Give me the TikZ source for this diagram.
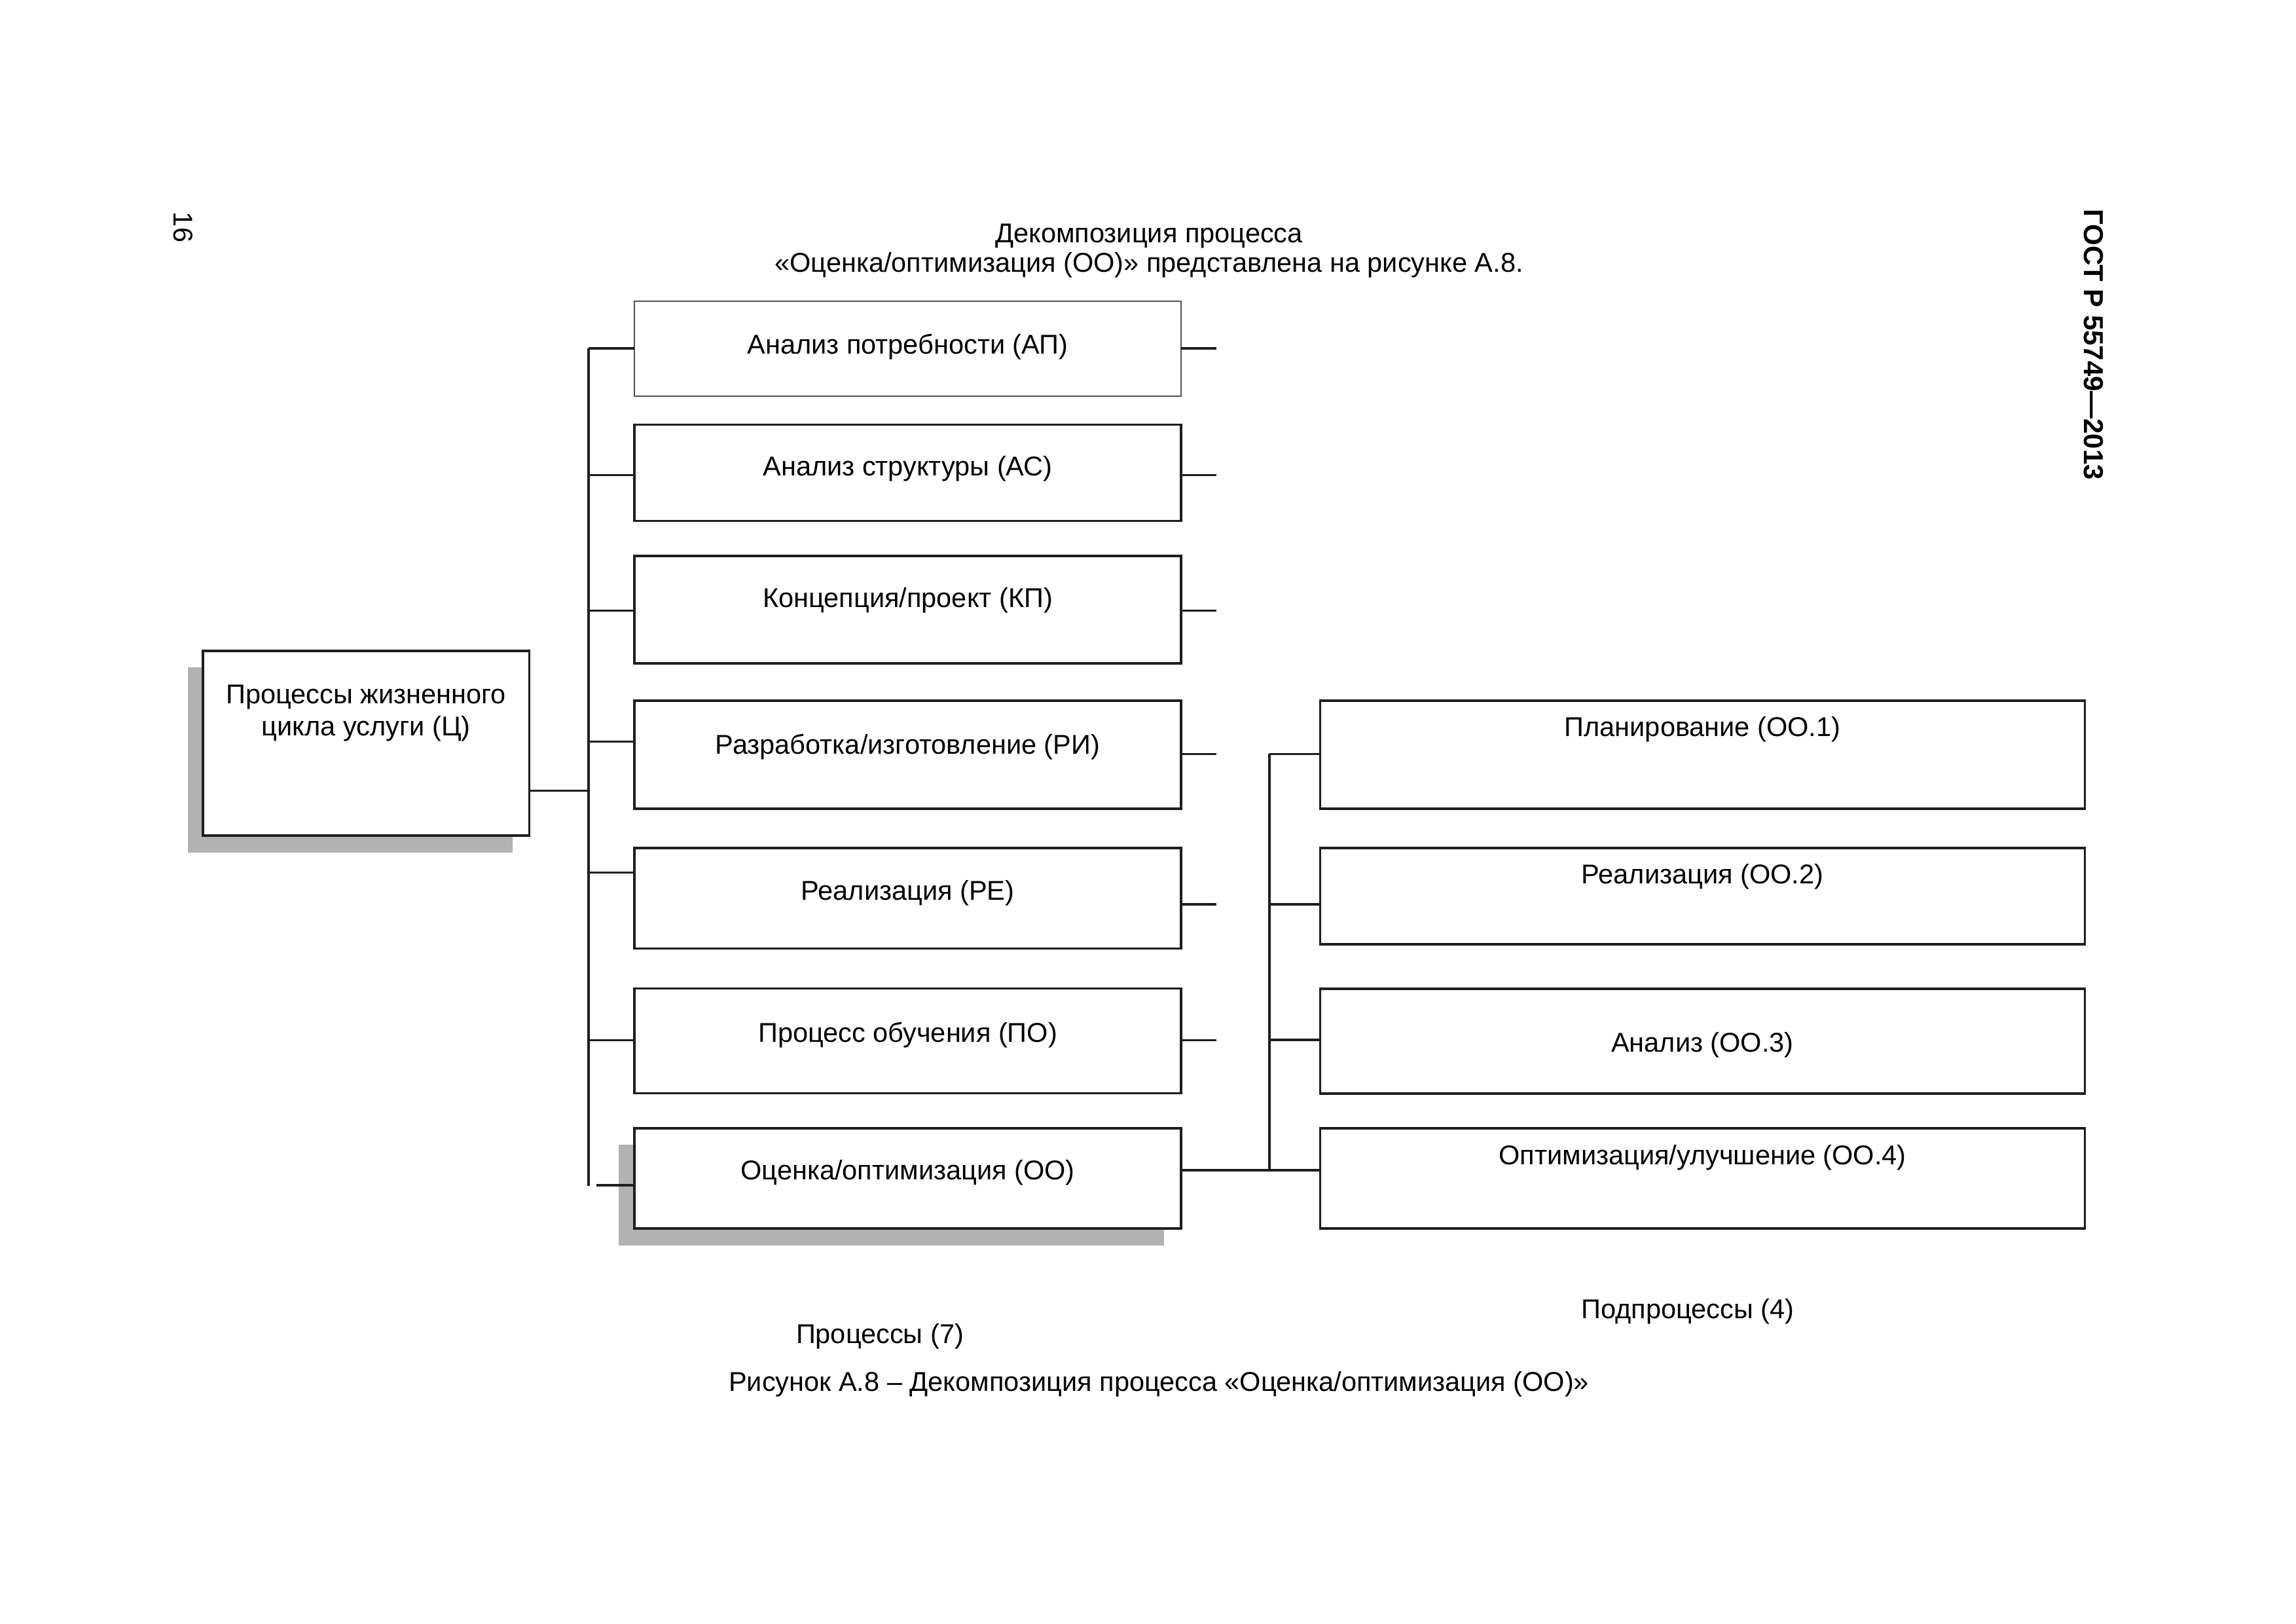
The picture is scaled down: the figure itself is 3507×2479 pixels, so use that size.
\documentclass[tikz,border=0pt]{standalone}
\usepackage{fontspec}
\setmainfont{Liberation Sans}
\usetikzlibrary{calc}
\definecolor{ink}{HTML}{1E1E1E}
\definecolor{shadowgray}{HTML}{B2B2B2}
\definecolor{thinink}{HTML}{505050}
\begin{document}
\begin{tikzpicture}[x=0.084688mm,y=-0.084688mm,
  every node/.style={inner sep=0pt, outer sep=0pt},
  ln/.style={draw=ink, line width=0.75pt},
  boxbase/.style={rectangle, draw=ink, line width=0.75pt, fill=white},
  pbox/.style={boxbase, minimum width=835*0.084688mm, minimum height=#1*0.084688mm},
  sbox/.style={boxbase, minimum width=1168*0.084688mm, minimum height=#1*0.084688mm},
  txt/.style={anchor=base, font=\fontsize{10}{11.6}\selectfont, text=black},
]
\useasboundingbox (0,0) rectangle (3507,2479);
\fill[white] (0,0) rectangle (3507,2479);

% shadows
\fill[shadowgray] (287,1019) rectangle (783,1302);
\fill[shadowgray] (945,1748) rectangle (1778,1902);

% main box
\node[boxbase, minimum width=498.5*0.084688mm, minimum height=282*0.084688mm] (c) at (559.25,1135) {};
\node[txt, anchor=center, align=center, font=\fontsize{10}{11.6}\selectfont] (tc) at (559.25,1089) {Процессы жизненного\\цикла услуги (Ц)};

% process boxes
\node[pbox=145, draw=thinink, line width=0.5pt] (ap) at (1386.5,532.5) {};
\node[pbox=147] (as) at (1386.5,721.8) {};
\node[pbox=164] (kp) at (1386.5,931) {};
\node[pbox=165] (ri) at (1386.5,1152.5) {};
\node[pbox=153.5] (re) at (1386.5,1371.75) {};
\node[pbox=160] (po) at (1386.5,1589.6) {};
\node[pbox=153] (oo) at (1386.5,1799.5) {};

\node[txt] (tap) at (1386.5,540) {Анализ потребности (АП)};
\node[txt] (tas) at (1386.5,726) {Анализ структуры (АС)};
\node[txt] (tkp) at (1386.5,927) {Концепция/проект (КП)};
\node[txt] (tri) at (1386.5,1151) {Разработка/изготовление (РИ)};
\node[txt] (tre) at (1386.5,1374) {Реализация (РЕ)};
\node[txt] (tpo) at (1386.5,1591) {Процесс обучения (ПО)};
\node[txt] (too) at (1386.5,1801) {Оценка/оптимизация (ОО)};

% sub boxes
\node[sbox=165] (s1) at (2600.5,1152.5) {};
\node[sbox=147] (s2) at (2600.5,1368.5) {};
\node[sbox=160] (s3) at (2600.5,1590) {};
\node[sbox=153] (s4) at (2600.5,1799.5) {};

\node[txt] (ts1) at (2600.5,1124) {Планирование (ОО.1)};
\node[txt] (ts2) at (2600.5,1349) {Реализация (ОО.2)};
\node[txt] (ts3) at (2600.5,1606) {Анализ (ОО.3)};
\node[txt] (ts4) at (2600.5,1778) {Оптимизация/улучшение (ОО.4)};

% connectors
\coordinate (busX) at (899,0);
\coordinate (subX) at (1939,0);
\coordinate (stubX) at (1858,0);
\coordinate (ooj) at (911,1810);

\draw[ln] (c.east |- 0,1207.7) -- (busX |- 0,1207.7);
\draw[ln] (busX |- 0,532) -- (busX |- 0,1810.7);
\foreach \b/\y in {ap/532, as/725.6, kp/932.8, ri/1132.5, re/1332.7, po/1588.6}
  \draw[ln] (busX |- 0,\y) -- (\b.west |- 0,\y);
\draw[ln] (ooj) -- (oo.west |- ooj);

\foreach \b/\y in {ap/532, as/725.6, kp/932.8, ri/1151.4, re/1381, po/1588.6}
  \draw[ln] (\b.east |- 0,\y) -- (stubX |- 0,\y);

\draw[ln] (oo.east |- 0,1787) -- (s4.west |- 0,1787);
\draw[ln] (subX |- 0,1151.4) -- (subX |- 0,1787);
\foreach \b/\y in {s1/1151.4, s2/1381, s3/1588}
  \draw[ln] (subX |- 0,\y) -- (\b.west |- 0,\y);

% headings and captions
\node[txt, anchor=center, align=center, font=\fontsize{10}{10.8}\selectfont] (title) at (1755,383) {Декомпозиция процесса\\«Оценка/оптимизация (ОО)» представлена на рисунке А.8.};
\node[txt] (lsub) at (2578,2013) {Подпроцессы (4)};
\node[txt] (lproc) at (1344,2051) {Процессы (7)};
\node[txt] (cap) at (1770,2124) {Рисунок А.8 – Декомпозиция процесса «Оценка/оптимизация (ОО)»};

\node[font=\fontsize{10}{11}\selectfont, rotate=-90] (pnum) at (280,347) {16};
\node[font=\fontsize{10.1}{11}\selectfont\bfseries, rotate=-90] (gost) at (3198,526) {ГОСТ Р 55749—2013};
\end{tikzpicture}
\end{document}
